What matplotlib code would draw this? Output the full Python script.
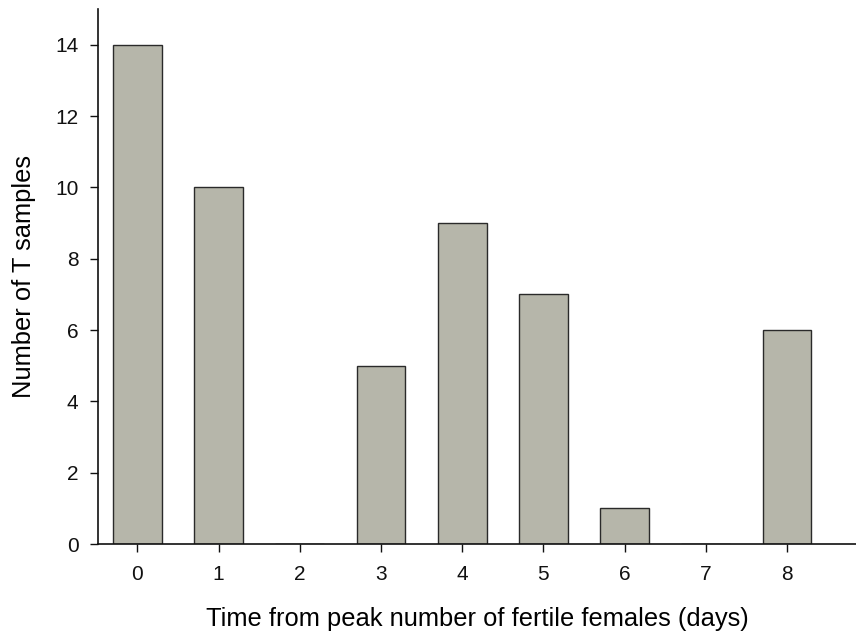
import matplotlib
matplotlib.use("Agg")
import matplotlib.pyplot as plt

# veri
gunler = [0, 1, 2, 3, 4, 5, 6, 7, 8]
ornek_sayisi = [14, 10, 0, 5, 9, 7, 1, 0, 6]
y_tikleri = [0, 2, 4, 6, 8, 10, 12, 14]

plt.rcParams["font.family"] = ["Liberation Sans", "DejaVu Sans"]

fig = plt.figure(figsize=(8.56, 6.36), dpi=100)
ax = fig.add_axes([98 / 856, 1 - 544 / 636, 1 - 98 / 856, (544 - 9) / 636])

ax.bar(gunler, ornek_sayisi, width=0.6, color="#b6b6aa",
       edgecolor="#2a2a2a", linewidth=1.0)

ax.set_xlim(-0.484, 8.85)
ax.set_ylim(0, 15)
ax.set_xticks(gunler)
ax.set_yticks(y_tikleri)

for s in ["top", "right"]:
    ax.spines[s].set_visible(False)
for s in ["left", "bottom"]:
    ax.spines[s].set_linewidth(1.2)
    ax.spines[s].set_color("#111111")

ax.tick_params(axis="both", direction="out", length=6, width=1.0,
               labelsize=15, colors="#111111")
ax.tick_params(axis="x", pad=9)
ax.tick_params(axis="y", pad=8)

ax.set_xlabel("Time from peak number of fertile females (days)", fontsize=18.4, labelpad=17)
ax.set_ylabel("Number of T samples", fontsize=18.4, labelpad=14)

fig.savefig("out.png", dpi=100)
